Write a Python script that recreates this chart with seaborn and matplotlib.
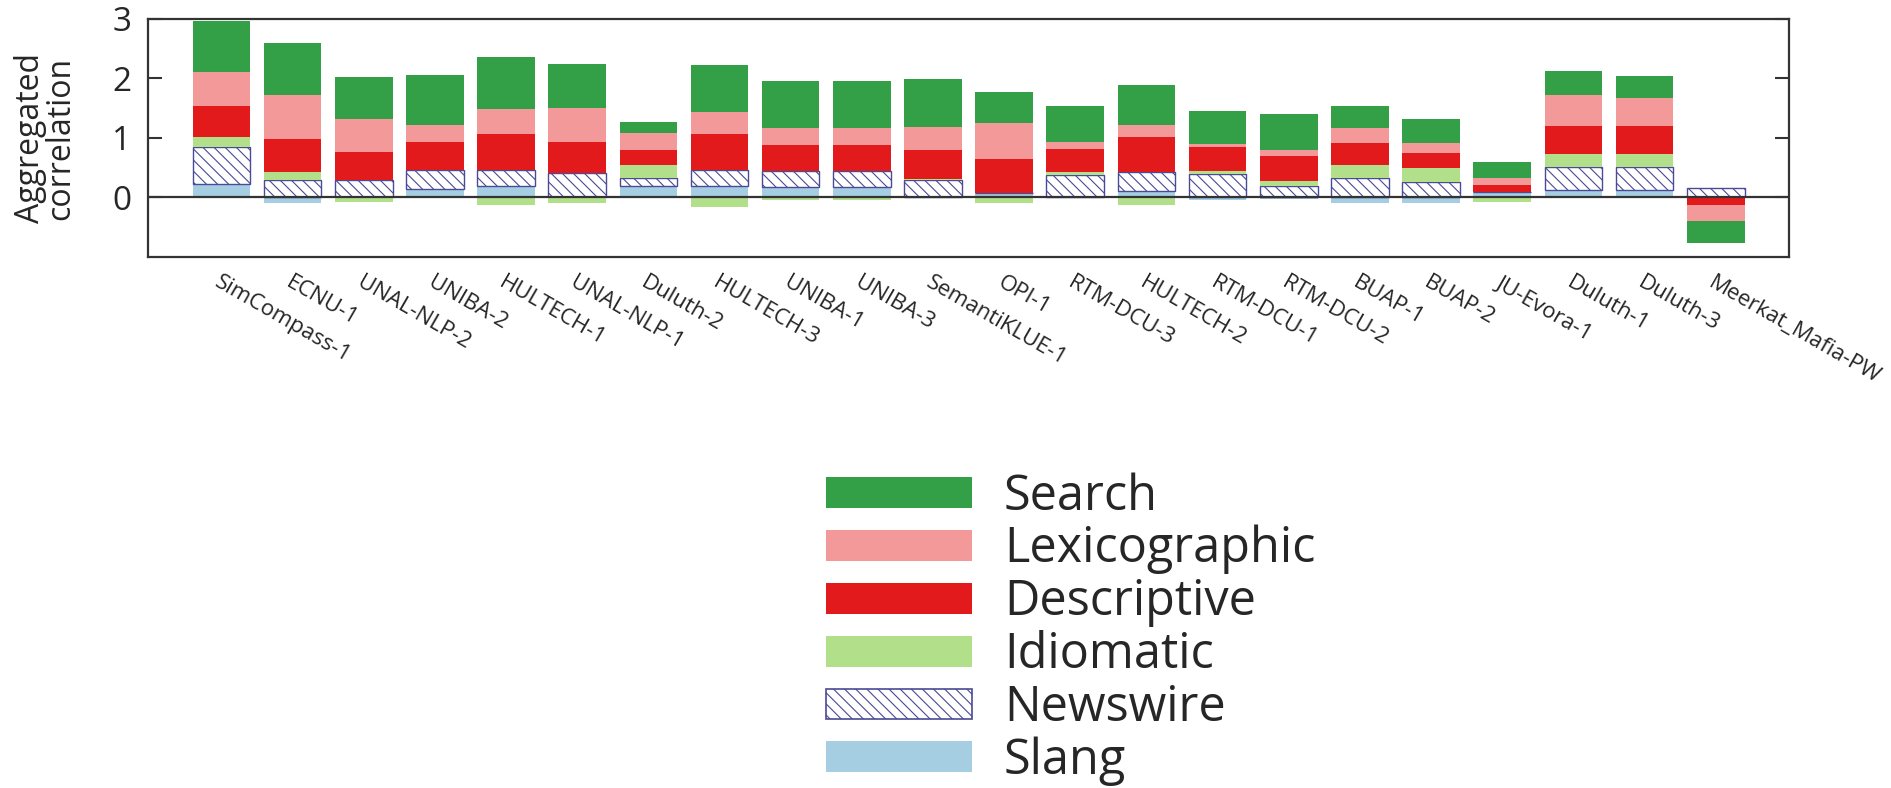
import numpy as np
import pandas as pd
import matplotlib
matplotlib.use("Agg")
import matplotlib.pyplot as plt
import seaborn as sns
from matplotlib.patches import Patch

systems = ["SimCompass-1", "ECNU-1", "UNAL-NLP-2", "UNIBA-2", "HULTECH-1", "UNAL-NLP-1",
           "Duluth-2", "HULTECH-3", "UNIBA-1", "UNIBA-3", "SemantiKLUE-1", "OPI-1",
           "RTM-DCU-3", "HULTECH-2", "RTM-DCU-1", "RTM-DCU-2", "BUAP-1", "BUAP-2",
           "JU-Evora-1", "Duluth-1", "Duluth-3", "Meerkat_Mafia-PW"]

slang = [0.23, -0.10, 0.0, 0.145, 0.20, 0.0, 0.20, 0.19, 0.18, 0.18, 0.0, 0.08,
         0.0, 0.11, -0.05, -0.03, -0.10, -0.10, 0.095, 0.13, 0.13, 0.0]
newswire = [0.61, 0.30, 0.30, 0.31, 0.27, 0.41, 0.12, 0.27, 0.26, 0.26, 0.30, 0.0,
            0.37, 0.32, 0.40, 0.19, 0.32, 0.26, 0.0, 0.38, 0.38, 0.16]
idiomatic = [0.18, 0.12, -0.08, 0.01, -0.13, -0.10, 0.22, -0.16, -0.05, -0.04, 0.01, -0.10,
             0.05, -0.13, 0.05, 0.09, 0.23, 0.24, -0.08, 0.22, 0.22, 0.0]
descriptive = [0.52, 0.57, 0.47, 0.47, 0.59, 0.53, 0.26, 0.61, 0.44, 0.44, 0.49, 0.56,
               0.40, 0.58, 0.39, 0.42, 0.36, 0.25, 0.115, 0.47, 0.47, -0.13]
lexicographic = [0.57, 0.73, 0.55, 0.28, 0.43, 0.56, 0.28, 0.36, 0.29, 0.29, 0.38, 0.61,
                 0.12, 0.20, 0.06, 0.09, 0.26, 0.16, 0.11, 0.52, 0.47, -0.26]
search = [0.86, 0.87, 0.71, 0.85, 0.87, 0.74, 0.19, 0.79, 0.78, 0.78, 0.81, 0.52,
          0.59, 0.68, 0.55, 0.62, 0.37, 0.41, 0.28, 0.40, 0.38, -0.38]

layer_names = ["Slang", "Newswire", "Idiomatic", "Descriptive", "Lexicographic", "Search"]
layer_values = [slang, newswire, idiomatic, descriptive, lexicographic, search]
layer_colors = ["#a6cee3", "white", "#b2df8a", "#e31a1c", "#f4999a", "#33a048"]
hatch_edge = "#4a4a96"

sns.set_style("white")
plt.rcParams["font.family"] = ["Open Sans", "DejaVu Sans"]
plt.rcParams["hatch.linewidth"] = 0.8

fig = plt.figure(figsize=(18.91, 7.88), dpi=100)
ax = fig.add_axes([0.0783, 0.6739, 0.8678, 0.302])

pos_base = np.zeros(len(systems))
neg_base = np.zeros(len(systems))
for name, vals, col in zip(layer_names, layer_values, layer_colors):
    v = np.asarray(vals, dtype=float)
    bottom = np.where(v >= 0, pos_base, neg_base)
    if name == "Newswire":
        kw = dict(edgecolor=hatch_edge, linewidth=1.0, hatch="\\\\\\")
    else:
        kw = dict(edgecolor=col, linewidth=0)
    df = pd.DataFrame({"system": systems, "value": v})
    sns.barplot(data=df, x="system", y="value", order=systems, color=col,
                saturation=1, width=0.81, errorbar=None, bottom=bottom, ax=ax, **kw)
    pos_base = pos_base + np.where(v > 0, v, 0)
    neg_base = neg_base + np.where(v < 0, v, 0)

ax.axhline(0, color="#333333", lw=1.6, zorder=5)
ax.set_xlim(-1.03, 22.03)
ax.set_ylim(-1, 3)
ax.set_yticks([0, 1, 2, 3])
ax.set_xlabel("")
ax.set_ylabel("Aggregated\ncorrelation", fontsize=23, linespacing=0.9, labelpad=25)
for s in ax.spines.values():
    s.set_visible(True)
    s.set_color("#333333")
    s.set_linewidth(1.6)
ax.tick_params(axis="y", direction="in", length=10, width=1.5, color="#333333",
               right=True, left=True, labelsize=24, pad=12)
ax.tick_params(axis="x", length=0, labelsize=16, pad=11)
ax.set_xticks(range(len(systems)))
ax.set_xticklabels(systems, rotation=-30, ha="left", va="top", rotation_mode="anchor")

legend_order = ["Search", "Lexicographic", "Descriptive", "Idiomatic", "Newswire", "Slang"]
handles = []
for name in legend_order:
    i = layer_names.index(name)
    if name == "Newswire":
        handles.append(Patch(facecolor="white", edgecolor=hatch_edge, hatch="\\\\\\", linewidth=1.2))
    else:
        handles.append(Patch(facecolor=layer_colors[i], edgecolor="none"))
fig.legend(handles, legend_order, loc="upper left", bbox_to_anchor=(0.4368, 0.401),
           frameon=False, fontsize=35, handlelength=3.0, handleheight=0.6,
           handletextpad=0.66, labelspacing=0.07, borderpad=0, borderaxespad=0)

fig.savefig("out.png", dpi=100)
